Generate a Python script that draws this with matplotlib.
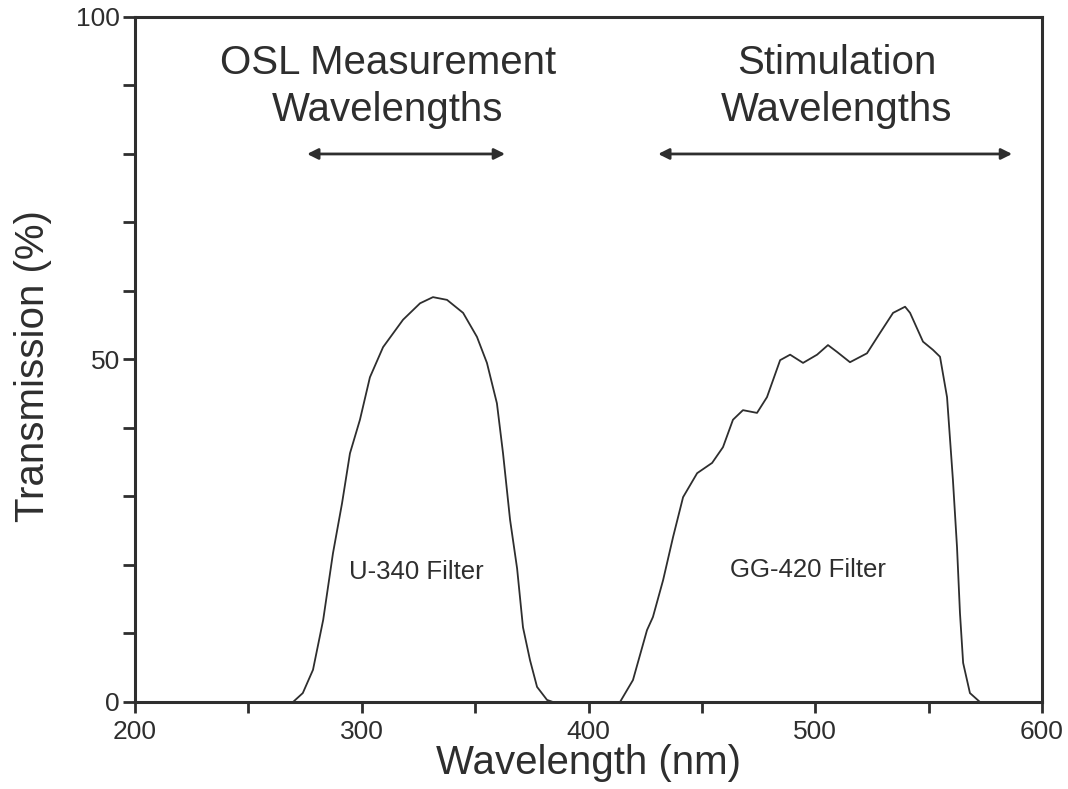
import numpy as np
import matplotlib.pyplot as plt

plt.rcParams['font.family'] = ['Liberation Sans', 'DejaVu Sans']

# U-340 filter transmission curve
u340_wl = [200, 269.7, 274, 278.5, 283, 287.3, 291.3, 294.8, 299.2, 303.6, 309.4, 318.2,
           325.7, 331.4, 337.6, 344.7, 350.8, 355.2, 359.6, 362.3, 365.4, 368.5,
           371.1, 374.2, 377.3, 381.7, 384.3, 600]
u340_tr = [0, 0, 1.3, 4.7, 12, 21.7, 29, 36.3, 41.2, 47.4, 51.8, 55.8,
           58.2, 59.1, 58.7, 56.8, 53.3, 49.5, 43.6, 36.3, 26.6, 19.5,
           10.9, 6.1, 2.2, 0.3, 0, 0]

# GG-420 filter transmission curve
gg420_wl = [413.9, 419.6, 425.8, 428.4, 432.9, 437.3, 441.7, 447.9, 454.5, 459.3, 463.7,
            468.1, 474.3, 478.7, 484.5, 488.9, 494.6, 500.8, 505.6, 509.6, 515.3, 522.8,
            528.6, 534.3, 539.6, 541.8, 547.5, 551.9, 555, 558.1, 560.7, 562.5, 563.8,
            565.2, 568.2, 572.6]
gg420_tr = [0, 3.2, 10.5, 12.4, 17.8, 24.1, 29.9, 33.4, 34.9, 37.2, 41.2,
            42.6, 42.2, 44.5, 49.9, 50.7, 49.5, 50.7, 52.1, 51.1, 49.6, 50.9,
            53.9, 56.8, 57.7, 56.8, 52.6, 51.4, 50.4, 44.5, 32.4, 22.6, 13,
            5.7, 1.3, 0]

osl_range = [275.9, 363.2]
stim_range = [430.7, 586.8]
arrow_y = 80

ink = '#2e2e2e'

fig = plt.figure(figsize=(10.68, 7.89), dpi=100)
ax = fig.add_axes([0.1264, 0.1103, 0.8493, 0.8682])

ax.plot(u340_wl, u340_tr, color=ink, linewidth=1.3)
ax.plot(gg420_wl, gg420_tr, color=ink, linewidth=1.3)

ax.set_xlim(200, 600)
ax.set_ylim(0, 100)
ax.set_xticks([200, 300, 400, 500, 600])
ax.set_xticks([250, 350, 450, 550], minor=True)
ax.set_yticks([0, 50, 100])
ax.set_yticks([10, 20, 30, 40, 60, 70, 80, 90], minor=True)
ax.tick_params(which='both', direction='out', color=ink, width=2, labelcolor=ink,
               labelsize=19)
ax.tick_params(which='both', axis='x', length=8, pad=5)
ax.tick_params(which='both', axis='y', length=9, pad=2)
for sp in ax.spines.values():
    sp.set_linewidth(2.2)
    sp.set_color(ink)

ax.set_xlabel('Wavelength (nm)', fontsize=29, color=ink, labelpad=0)
ax.set_ylabel('Transmission (%)', fontsize=29, color=ink)
ax.yaxis.set_label_coords(-0.092, 0.49)

# annotations
ax.text(311.6, 89.8, 'OSL Measurement\nWavelengths', ha='center', va='center',
        fontsize=29, color=ink, linespacing=1.3)
ax.text(509.5, 89.8, 'Stimulation\nWavelengths', ha='center', va='center',
        fontsize=29, color=ink, linespacing=1.3)
for lo, hi in [osl_range, stim_range]:
    ax.annotate('', xy=(lo, arrow_y), xytext=(hi, arrow_y),
                arrowprops=dict(arrowstyle='<|-|>', color=ink, lw=2,
                                mutation_scale=16, shrinkA=0, shrinkB=0))

ax.text(324, 19, 'U-340 Filter', ha='center', va='center', fontsize=18.5, color=ink)
ax.text(496.6, 19.3, 'GG-420 Filter', ha='center', va='center', fontsize=18.5, color=ink)

fig.savefig('out.png', dpi=100)
